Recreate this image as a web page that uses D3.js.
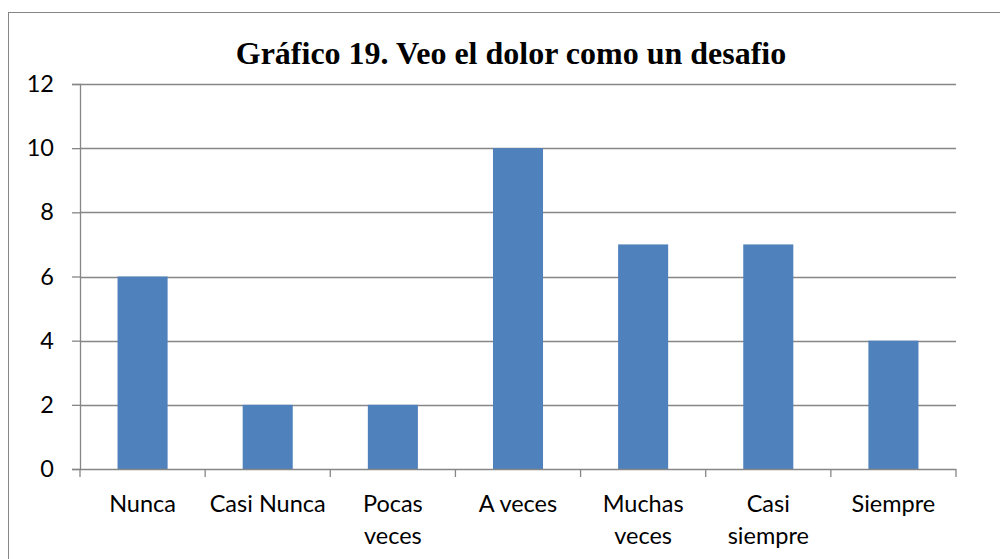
<!DOCTYPE html>
<html>
<head>
    <meta charset="utf-8">
    <title>Gráfico 19</title>
    <script src="https://d3js.org/d3.v7.min.js"></script>
    <style>
        html, body { margin: 0; padding: 0; background: white; }
    </style>
</head>
<body>
    <div id="chart"></div>
    <script>
        // Data
        const categories = ["Nunca", "Casi Nunca", "Pocas veces", "A veces", "Muchas veces", "Casi siempre", "Siempre"];
        const values = [6, 2, 2, 10, 7, 7, 4];
        const yTicks = [0, 2, 4, 6, 8, 10, 12];
        // label lines as shown under the axis
        const labelLines = [["Nunca"], ["Casi Nunca"], ["Pocas", "veces"], ["A veces"], ["Muchas", "veces"], ["Casi", "siempre"], ["Siempre"]];

        const W = 1000, H = 559;
        const margins = { top: 84, right: 44, bottom: 90, left: 80 };
        const width = W - margins.left - margins.right;
        const height = H - margins.top - margins.bottom;
        const labelFont = "Lato, 'Open Sans', sans-serif";

        const svg = d3.select("#chart").append("svg")
            .attr("width", W)
            .attr("height", H);

        // outer frame
        svg.append("rect")
            .attr("x", 8.5).attr("y", 12.5)
            .attr("width", 1000).attr("height", 600)
            .attr("fill", "white")
            .attr("stroke", "#868686")
            .attr("stroke-width", 1);

        // title
        svg.append("text")
            .attr("x", 511)
            .attr("y", 64)
            .attr("text-anchor", "middle")
            .style("font-family", "'Liberation Serif', 'Times New Roman', serif")
            .style("font-weight", "bold")
            .style("font-size", "32px")
            .text("Gráfico 19. Veo el dolor como un desafio");

        const g = svg.append("g")
            .attr("transform", `translate(${margins.left},${margins.top})`);

        const x = d3.scaleBand().domain(categories).range([0, width]).paddingInner(0.6).paddingOuter(0.3);
        const xb = d3.scaleBand().domain(categories).range([0, width]);
        const y = d3.scaleLinear().domain([0, 12]).range([height, 0]);

        // gridlines
        g.selectAll(".grid").data(yTicks.filter(d => d > 0)).enter()
            .append("line")
            .attr("x1", 0).attr("x2", width)
            .attr("y1", d => Math.round(y(d)) + 0.5).attr("y2", d => Math.round(y(d)) + 0.5)
            .attr("stroke", "#868686").attr("stroke-width", 1.3);

        // bars
        g.selectAll(".bar").data(values).enter()
            .append("rect")
            .attr("x", (d, i) => x(categories[i]))
            .attr("width", x.bandwidth())
            .attr("y", d => y(d))
            .attr("height", d => height - y(d))
            .attr("fill", "#4F81BD");

        // y axis
        const yAxis = g.append("g")
            .call(d3.axisLeft(y).tickValues(yTicks).tickSize(8).tickPadding(18));
        yAxis.select(".domain").attr("stroke", "#868686").attr("stroke-width", 1.3);
        yAxis.selectAll(".tick line").attr("stroke", "#868686").attr("stroke-width", 1.3);
        yAxis.selectAll(".tick text")
            .style("font-family", labelFont)
            .style("font-size", "23.5px")
            .attr("fill", "black");

        // x axis line and tick marks at category boundaries
        const xAxis = g.append("g").attr("transform", `translate(0,${height})`);
        xAxis.append("line")
            .attr("x1", 0).attr("x2", width).attr("y1", 0.5).attr("y2", 0.5)
            .attr("stroke", "#868686").attr("stroke-width", 1.3);
        const bounds = categories.map(c => xb(c)).concat([width]);
        xAxis.selectAll(".xt").data(bounds).enter()
            .append("line")
            .attr("x1", d => d).attr("x2", d => d)
            .attr("y1", 0).attr("y2", 8)
            .attr("stroke", "#868686").attr("stroke-width", 1.3);

        // x labels
        labelLines.forEach((lines, i) => {
            const cx = xb(categories[i]) + xb.bandwidth() / 2;
            const t = xAxis.append("text")
                .attr("x", cx)
                .attr("y", 43)
                .attr("text-anchor", "middle")
                .style("font-family", labelFont)
                .style("font-size", "23.5px")
                .attr("fill", "black");
            lines.forEach((l, j) => {
                t.append("tspan")
                    .attr("x", cx)
                    .attr("dy", j === 0 ? 0 : 32)
                    .text(l);
            });
        });
    </script>
</body>
</html>
